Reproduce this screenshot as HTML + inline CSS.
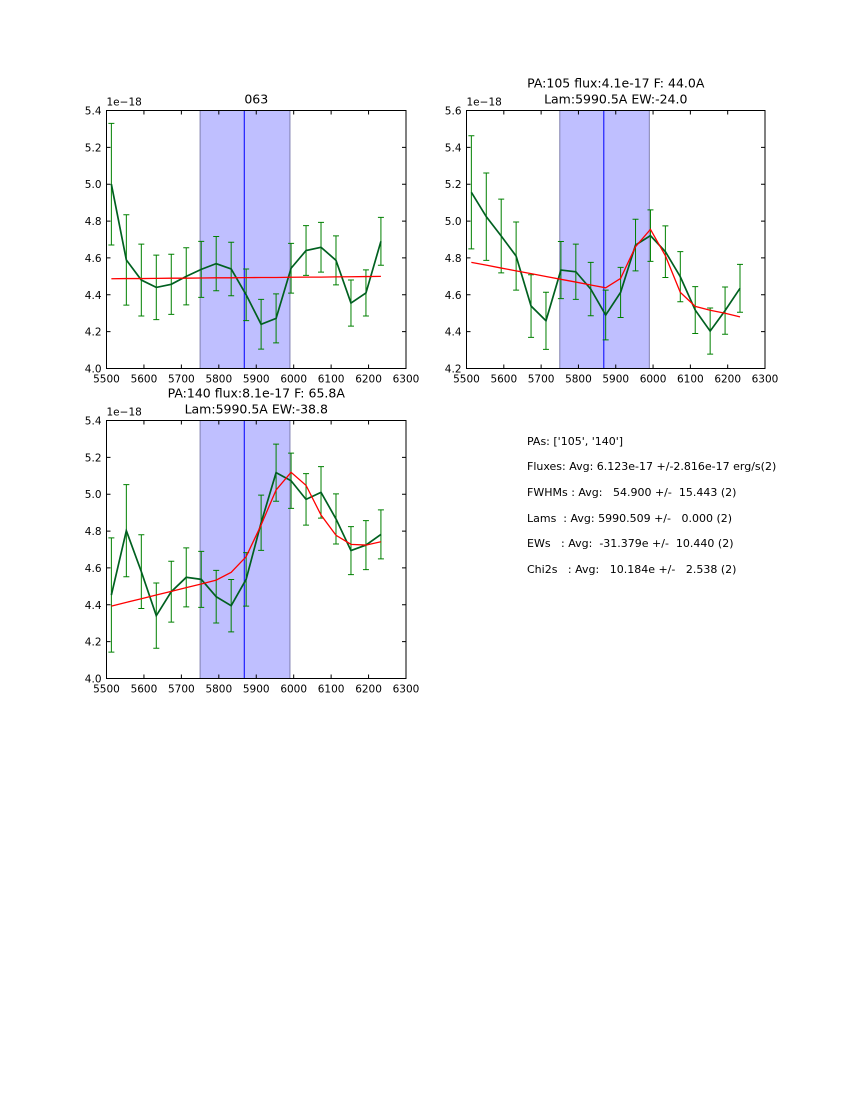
<!DOCTYPE html>
<html><head><meta charset="utf-8"><style>
body{margin:0;background:#fff;}
svg{display:block;font-family:"DejaVu Sans","Liberation Sans",sans-serif;}
text{white-space:pre;}
</style></head><body>
<svg id="fig" width="850" height="1100" viewBox="0 0 850 1100" xmlns="http://www.w3.org/2000/svg">
<rect width="850" height="1100" fill="#fff"/>
<g font-size="11" fill="#000">
<text x="527" y="445" xml:space="preserve">PAs: ['105', '140']</text>
<text x="527" y="470" xml:space="preserve">Fluxes: Avg: 6.123e-17 +/-2.816e-17 erg/s(2)</text>
<text x="527" y="496" xml:space="preserve">FWHMs : Avg:   54.900 +/-  15.443 (2)</text>
<text x="527" y="522" xml:space="preserve">Lams  : Avg: 5990.509 +/-   0.000 (2)</text>
<text x="527" y="547" xml:space="preserve">EWs   : Avg:  -31.379e +/-  10.440 (2)</text>
<text x="527" y="573" xml:space="preserve">Chi2s   : Avg:   10.184e +/-   2.538 (2)</text>
</g>
</svg>
<script>
const waves = [5513,5553,5593,5633,5673,5713,5753,5793,5833,5873,5913,5953,5993,6033,6073,6113,6153,6193,6233];
const flux063 = [5.00,4.589,4.48,4.44,4.457,4.50,4.538,4.569,4.54,4.40,4.24,4.272,4.544,4.64,4.658,4.587,4.355,4.41,4.69];
const err063 = [0.33,0.245,0.195,0.175,0.163,0.155,0.152,0.147,0.145,0.14,0.135,0.133,0.135,0.135,0.135,0.133,0.125,0.125,0.13];
const fit063 = [4.487,4.488,4.488,4.489,4.49,4.49,4.491,4.492,4.492,4.493,4.494,4.494,4.495,4.496,4.496,4.497,4.498,4.499,4.50];
const flux105 = [5.156,5.024,4.919,4.81,4.539,4.459,4.734,4.725,4.631,4.49,4.613,4.87,4.921,4.834,4.698,4.517,4.403,4.514,4.635];
const err105 = [0.307,0.237,0.2,0.185,0.17,0.155,0.155,0.15,0.145,0.135,0.136,0.14,0.14,0.14,0.136,0.127,0.125,0.128,0.13];
const fit105 = [4.776,4.761,4.745,4.73,4.715,4.699,4.684,4.669,4.653,4.638,4.689,4.861,4.955,4.812,4.613,4.537,4.516,4.50,4.48];
const flux140 = [4.453,4.802,4.58,4.341,4.471,4.549,4.538,4.444,4.395,4.538,4.845,5.117,5.073,4.972,5.01,4.866,4.694,4.724,4.782];
const err140 = [0.31,0.25,0.2,0.177,0.165,0.16,0.152,0.143,0.142,0.145,0.15,0.155,0.15,0.14,0.14,0.136,0.13,0.133,0.133];
const fit140 = [4.393,4.413,4.433,4.453,4.473,4.493,4.513,4.534,4.576,4.661,4.833,5.023,5.119,5.048,4.887,4.777,4.728,4.724,4.742];
const xTicks = [5500,5600,5700,5800,5900,6000,6100,6200,6300];
const yTicksA = [4.0,4.2,4.4,4.6,4.8,5.0,5.2,5.4];
const yTicksB = [4.2,4.4,4.6,4.8,5.0,5.2,5.4,5.6];
const band = [5750,5990];
const lineCenter = 5868;

const NS="http://www.w3.org/2000/svg";
const svg=document.getElementById('fig');
function mk(tag,attrs,parent){const e=document.createElementNS(NS,tag);for(const k in attrs)e.setAttribute(k,attrs[k]);parent.appendChild(e);return e;}

function panel(name,L,T,W,H,ymin,ymax,yTicks,flux,err,fit,titles){
  const g=mk('g',{},svg);
  
  
  const xs=v=>L+(v-5500)/800*W;
  const ys=v=>T+H-(v-ymin)/(ymax-ymin)*H;
  const b=mk('rect',{x:xs(band[0]),y:T,width:xs(band[1])-xs(band[0]),height:H,fill:'#bfbfff',stroke:'#8080b0','stroke-width':1},g);
  
  
  const vl=mk('line',{x1:xs(lineCenter),x2:xs(lineCenter),y1:T,y2:T+H,stroke:'#0000ff','stroke-width':1},g);
  
  
  for(let i=0;i<waves.length;i++){
    const x=xs(waves[i]),y1=ys(flux[i]+err[i]),y2=ys(flux[i]-err[i]);
    const eb=mk('path',{d:`M${x},${y1}V${y2}M${x-3},${y1}H${x+3}M${x-3},${y2}H${x+3}`,stroke:'#008000','stroke-width':1,fill:'none'},g);
    
    
  }
  const gp=mk('polyline',{points:waves.map((w,i)=>xs(w)+','+ys(flux[i])).join(' '),fill:'none',stroke:'#006020','stroke-width':1.7},g);
  
  
  const rp=mk('polyline',{points:waves.map((w,i)=>xs(w)+','+ys(fit[i])).join(' '),fill:'none',stroke:'#ff0000','stroke-width':1.3},g);
  
  
  const fr=mk('rect',{x:L,y:T,width:W,height:H,fill:'none',stroke:'#000','stroke-width':1},g);
  
  
  xTicks.forEach(v=>{
    const x=xs(v);
    mk('path',{d:`M${x},${T+H}v-4M${x},${T}v4`,stroke:'#000'},g);
    const t=mk('text',{x:x,y:T+H+14,'font-size':10.5,'text-anchor':'middle'},g);
    t.textContent=v;
    
    
  });
  yTicks.forEach(v=>{
    const y=ys(v);
    mk('path',{d:`M${L},${y}h4M${L+W},${y}h-4`,stroke:'#000'},g);
    const t=mk('text',{x:L-5,y:y+4,'font-size':10.5,'text-anchor':'end'},g);
    t.textContent=v.toFixed(1);
    
    
  });
  const ex=mk('text',{x:L,y:T-5,'font-size':10.5},g);
  ex.textContent='1e\u221218';
  
  
  titles.forEach((s,k)=>{
    const t=mk('text',{x:L+W/2,y:T-7-(titles.length-1-k)*16,'font-size':12.5,'text-anchor':'middle'},g);
    t.textContent=s;
    
    
  });
}
panel('panel-063',106.5,110.5,299.5,258,4.0,5.4,yTicksA,flux063,err063,fit063,['063']);
panel('panel-pa105',466.5,110.5,298.5,258,4.2,5.6,yTicksB,flux105,err105,fit105,['PA:105 flux:4.1e-17 F: 44.0A','Lam:5990.5A EW:-24.0']);
panel('panel-pa140',106.5,420.5,299.5,258,4.0,5.4,yTicksA,flux140,err140,fit140,['PA:140 flux:8.1e-17 F: 65.8A','Lam:5990.5A EW:-38.8']);
</script>
</body></html>
